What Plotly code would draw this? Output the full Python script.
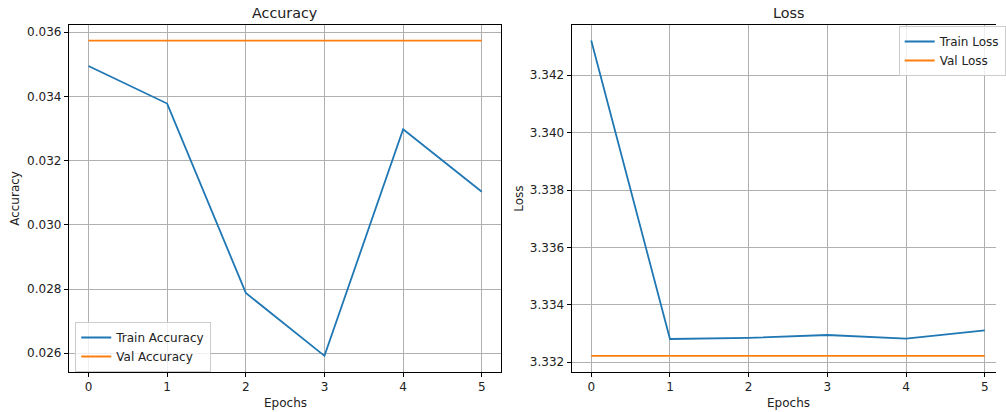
import plotly.graph_objects as go

epochs = [0, 1, 2, 3, 4, 5]
train_acc = [0.03495, 0.03378, 0.02788, 0.02592, 0.03298, 0.03103]
val_acc = [0.035738, 0.035738, 0.035738, 0.035738, 0.035738, 0.035738]
train_loss = [3.34321, 3.33281, 3.33285, 3.33295, 3.33282, 3.33311]
val_loss = [3.33222, 3.33222, 3.33222, 3.33222, 3.33222, 3.33222]

W, H = 1006, 412
BLUE, ORANGE = "#1f77b4", "#ff7f0e"
FONT = "DejaVu Sans"

def px_x(p):
    return p / W

def px_y(p):
    return 1 - p / H

fig = go.Figure()
fig.add_trace(go.Scatter(x=epochs, y=train_acc, mode="lines", name="Train Accuracy",
                         line=dict(color=BLUE, width=1.8), xaxis="x", yaxis="y", legend="legend"))
fig.add_trace(go.Scatter(x=epochs, y=val_acc, mode="lines", name="Val Accuracy",
                         line=dict(color=ORANGE, width=1.8), xaxis="x", yaxis="y", legend="legend"))
fig.add_trace(go.Scatter(x=epochs, y=train_loss, mode="lines", name="Train Loss",
                         line=dict(color=BLUE, width=1.8), xaxis="x2", yaxis="y2", legend="legend2"))
fig.add_trace(go.Scatter(x=epochs, y=val_loss, mode="lines", name="Val Loss",
                         line=dict(color=ORANGE, width=1.8), xaxis="x2", yaxis="y2", legend="legend2"))

ydom = [px_y(372), px_y(25)]
common = dict(showline=True, linecolor="black", linewidth=1, ticks="outside", ticklen=4,
              tickwidth=1, tickcolor="black", showgrid=True, gridcolor="#b0b0b0", gridwidth=0.8,
              zeroline=False, tickfont=dict(family=FONT, size=12, color="#222"))

fig.update_layout(
    width=W, height=H, autosize=False, margin=dict(l=0, r=0, t=0, b=0),
    plot_bgcolor="white", paper_bgcolor="white",
    font=dict(family=FONT, size=12, color="#222"),
    xaxis=dict(domain=[px_x(69.5), px_x(506.5)], range=[-0.25, 5.25], tickvals=epochs,
               anchor="y", mirror=True, **common),
    yaxis=dict(domain=ydom, range=[0.025417, 0.036227], dtick=0.002, tick0=0.026,
               tickformat=".3f", anchor="x", mirror=True, **common),
    xaxis2=dict(domain=[px_x(577.3), 1.0], range=[-0.25, 5.142], tickvals=epochs,
                anchor="y2", mirror=True, **common),
    yaxis2=dict(domain=ydom, range=[3.33166, 3.34375], dtick=0.002, tick0=3.332,
                tickformat=".3f", anchor="x2", mirror=False, **common),
    legend=dict(x=px_x(76), y=px_y(322), xanchor="left", yanchor="top",
                bgcolor="rgba(255,255,255,0.8)", bordercolor="#cccccc", borderwidth=1,
                font=dict(family=FONT, size=12, color="#222"), itemwidth=30),
    legend2=dict(x=px_x(907.7), y=px_y(26), xanchor="left", yanchor="top",
                 bgcolor="rgba(255,255,255,0.8)", bordercolor="#cccccc", borderwidth=1,
                 font=dict(family=FONT, size=12, color="#222"), itemwidth=30),
    showlegend=True,
)

ann = [
    dict(text="Accuracy", x=px_x(288), y=px_y(13.3), font=dict(size=14.3)),
    dict(text="Loss", x=px_x(796), y=px_y(13.3), font=dict(size=14.3)),
    dict(text="Epochs", x=px_x(288), y=px_y(402.5), font=dict(size=12)),
    dict(text="Epochs", x=px_x(796), y=px_y(402.5), font=dict(size=12)),
    dict(text="Accuracy", x=px_x(15.5), y=px_y(198.5), font=dict(size=12), textangle=-90),
    dict(text="Loss", x=px_x(524.5), y=px_y(198.5), font=dict(size=12), textangle=-90),
]
for a in ann:
    fig.add_annotation(xref="paper", yref="paper", showarrow=False, xanchor="center",
                       yanchor="middle", text=a["text"], x=a["x"], y=a["y"],
                       textangle=a.get("textangle", 0),
                       font=dict(family=FONT, color="#222", size=a["font"]["size"]))

post = (
    "document.body.style.margin='0';document.body.style.padding='0';"
    "document.body.style.overflow='hidden';document.documentElement.style.overflow='hidden';"
    "var gd=document.getElementById('{plot_id}');"
    "gd.style.overflow='hidden';gd.style.width='%dpx';gd.style.height='%dpx';"
    "document.querySelectorAll('.main-svg, .svg-container').forEach(function(s){s.style.overflow='hidden';});"
    % (W, H)
)
fig.write_html("out.html", config={"displayModeBar": False, "responsive": False},
               post_script=post)
